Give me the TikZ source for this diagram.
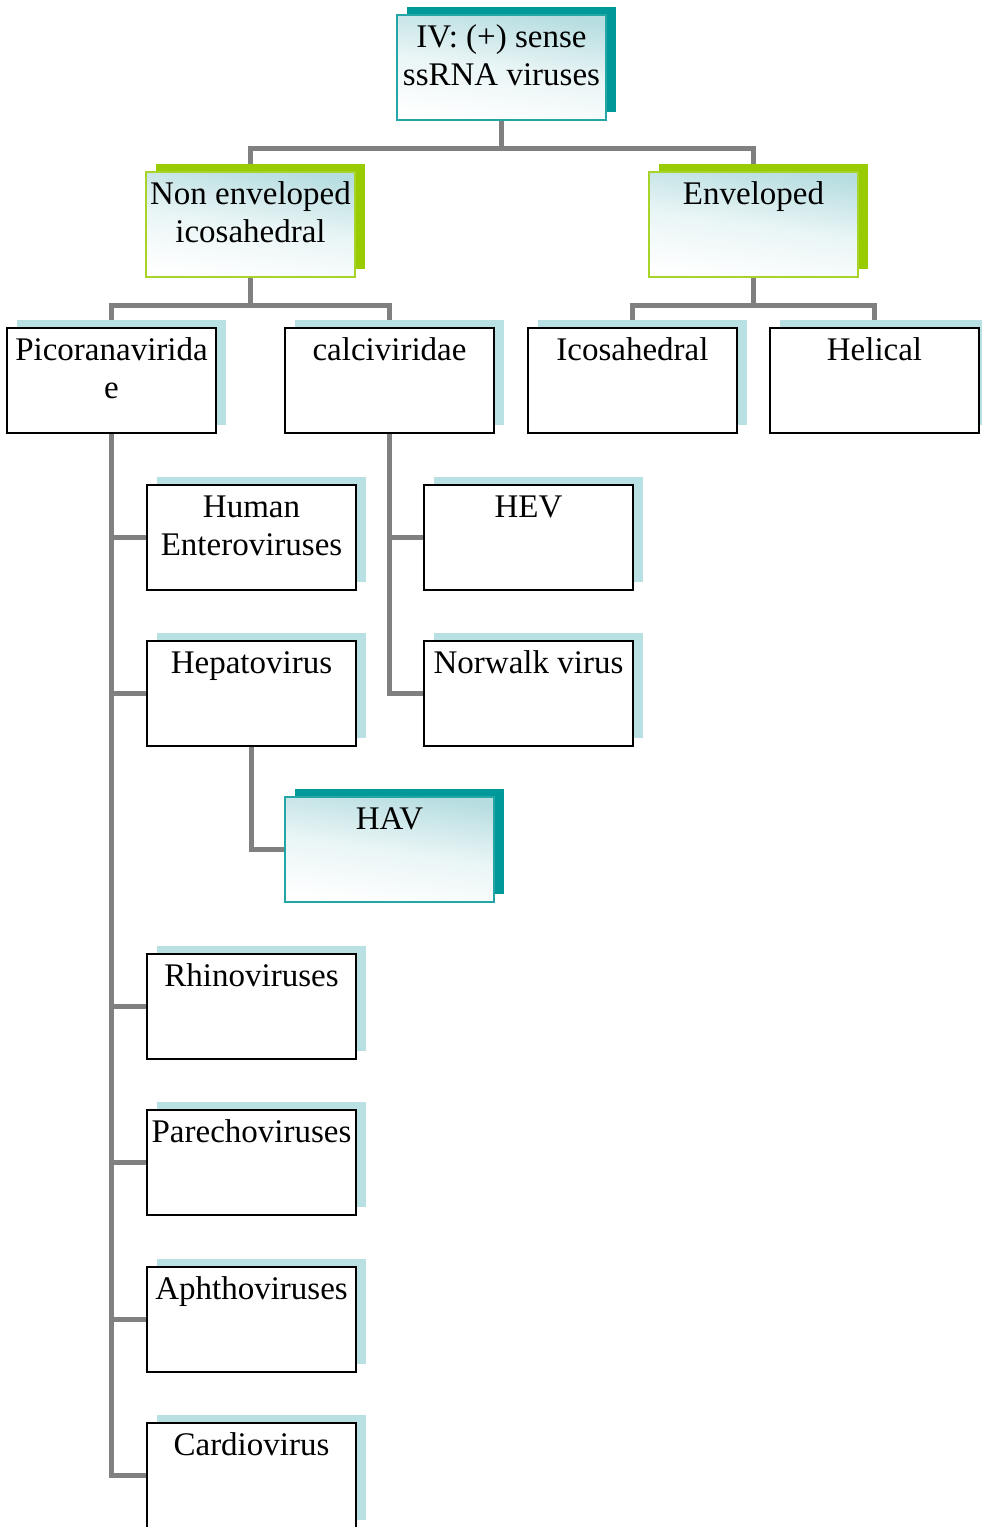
\documentclass[tikz,border=0pt]{standalone}
\usepackage{fontspec}
\setmainfont{Liberation Serif}
\pgfdeclarelayer{bg}
\pgfsetlayers{bg,main}
\definecolor{tealsh}{HTML}{009999}
\definecolor{tealbd}{HTML}{22A6A6}
\definecolor{greensh}{HTML}{99CC00}
\definecolor{greenbd}{HTML}{A8D42A}
\definecolor{lbsh}{HTML}{B9E0E3}
\definecolor{gradc}{HTML}{B6DDE0}
\definecolor{conn}{HTML}{808080}
\newcommand\TT{\rule{0pt}{32pt}}
\tikzset{
  anybox/.style={anchor=north west, minimum width=209pt, minimum height=105pt, inner sep=0pt, outer sep=0pt},
  plainbox/.style={anybox, draw=black, line width=2pt, fill=white},
  gradbox/.style={anybox, line width=1.6pt, top color=gradc, bottom color=white, middle color=white!70!gradc, shading angle=-8},
  tealbox/.style={gradbox, draw=tealbd},
  greenbox/.style={gradbox, draw=greenbd},
  plainshadow/.style={fill=lbsh},
  tealshadow/.style={fill=tealsh},
  greenshadow/.style={fill=greensh},
  lbl/.style={anchor=north, inner sep=0pt, align=center, font=\fontsize{33}{38}\selectfont},
  link/.style={draw=conn, line width=5pt}
}
\newcommand\vbx[5]{%
  \fill[#1shadow] (#3+10,#4-8) rectangle ++(209,105);
  \node[#1box] (#2) at (#3,#4) {};
  \node[lbl] (#2-t) at (#2.north) {\TT #5};
}
\begin{document}
\begin{tikzpicture}[x=1pt,y=-1pt]
\useasboundingbox (0,0) rectangle (982,1527);
\clip (0,0) rectangle (982,1527);
\vbx{teal}{top}{397}{15}{IV: (+) sense\\ssRNA viruses}
\vbx{green}{nonenv}{146}{172}{Non enveloped\\icosahedral}
\vbx{green}{env}{649}{172}{Enveloped}
\vbx{plain}{pico}{7}{328}{Picoranavirida\\e}
\vbx{plain}{calci}{285}{328}{calciviridae}
\vbx{plain}{ico}{528}{328}{Icosahedral}
\vbx{plain}{hel}{770}{328}{Helical}
\vbx{plain}{hent}{147}{485}{Human\\Enteroviruses}
\vbx{plain}{hep}{147}{641}{Hepatovirus}
\vbx{teal}{hav}{285}{797}{HAV}
\vbx{plain}{rhino}{147}{954}{Rhinoviruses}
\vbx{plain}{pare}{147}{1110}{Parechoviruses}
\vbx{plain}{aph}{147}{1267}{Aphthoviruses}
\vbx{plain}{card}{147}{1423}{Cardiovirus}
\vbx{plain}{hev}{424}{485}{HEV}
\vbx{plain}{norw}{424}{641}{Norwalk virus}
\begin{pgfonlayer}{bg}
\draw[link] (top.south) -- ++(0,28) -| (nonenv.north);
\draw[link] (top.south) -- ++(0,28) -| (env.north);
\draw[link] (nonenv.south) -- ++(0,28) -| (pico.north);
\draw[link] (nonenv.south) -- ++(0,28) -| (calci.north);
\draw[link] (env.south) -- ++(0,28) -| (ico.north);
\draw[link] (env.south) -- ++(0,28) -| (hel.north);
\draw[link] (pico.south) |- (hent.west);
\draw[link] (pico.south) |- (hep.west);
\draw[link] (pico.south) |- (rhino.west);
\draw[link] (pico.south) |- (pare.west);
\draw[link] (pico.south) |- (aph.west);
\draw[link] (pico.south) |- (card.west);
\draw[link] (hep.south) |- (hav.west);
\draw[link] (calci.south) |- (hev.west);
\draw[link] (calci.south) |- (norw.west);
\end{pgfonlayer}
\end{tikzpicture}
\end{document}
